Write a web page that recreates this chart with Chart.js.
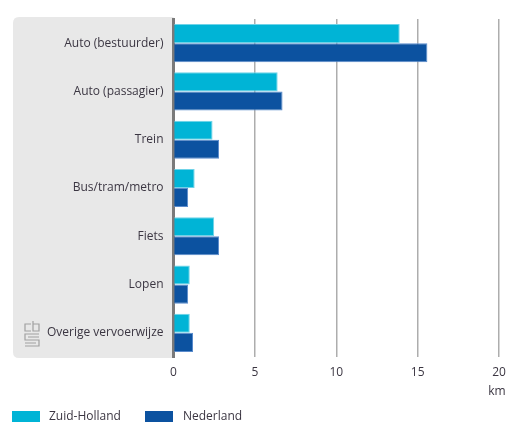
<!DOCTYPE html>
<html>
<head>
<meta charset="utf-8">
<script src="https://cdn.jsdelivr.net/npm/chart.js@4/dist/chart.umd.min.js"></script>
<style>
  html, body { margin: 0; padding: 0; background: #fff; }
  #wrap { width: 509px; height: 423px; }
</style>
</head>
<body>
<div id="wrap"><canvas id="chart" width="509" height="423"></canvas></div>
<script>
const categories = ['Auto (bestuurder)', 'Auto (passagier)', 'Trein', 'Bus/tram/metro', 'Fiets', 'Lopen', 'Overige vervoerwijze'];
const zuidHolland = [13.9, 6.4, 2.4, 1.3, 2.5, 1.0, 1.0];
const nederland = [15.6, 6.7, 2.8, 0.9, 2.8, 0.9, 1.2];
const xTicks = [0, 5, 10, 15, 20];

const FONT = '"Open Sans", "Noto Sans", sans-serif';
const TEXT = '#3b3642';

// grey panel behind the category labels, plus the small logo
const panelPlugin = {
    id: 'panel',
    beforeDraw(chart) {
        const { ctx, chartArea } = chart;
        const x0 = 13, x1 = chartArea.left, y0 = chartArea.top - 2, y1 = chartArea.bottom + 1, r = 6;
        ctx.save();
        ctx.fillStyle = '#e8e8e8';
        ctx.beginPath();
        ctx.moveTo(x1, y0);
        ctx.lineTo(x0 + r, y0);
        ctx.quadraticCurveTo(x0, y0, x0, y0 + r);
        ctx.lineTo(x0, y1 - r);
        ctx.quadraticCurveTo(x0, y1, x0 + r, y1);
        ctx.lineTo(x1, y1);
        ctx.closePath();
        ctx.fill();

        // rough cbs logo
        ctx.strokeStyle = '#a0a0a0';
        ctx.lineWidth = 1.2;
        ctx.beginPath();
        ctx.moveTo(31, 324); ctx.lineTo(25, 324); ctx.lineTo(25, 331); ctx.lineTo(31, 331);
        ctx.moveTo(33, 321); ctx.lineTo(33, 331); ctx.lineTo(39, 331); ctx.lineTo(39, 324); ctx.lineTo(33, 324);
        ctx.moveTo(39, 334); ctx.lineTo(25, 334); ctx.lineTo(25, 340); ctx.lineTo(39, 340);
        ctx.lineTo(39, 346); ctx.lineTo(25, 346);
        ctx.moveTo(28, 337); ctx.lineTo(39, 337);
        ctx.moveTo(25, 343); ctx.lineTo(36, 343);
        ctx.stroke();
        ctx.restore();
    },
    afterDraw(chart) {
        const { ctx } = chart;
        ctx.save();
        ctx.font = '12px ' + FONT;
        ctx.fillStyle = TEXT;
        ctx.textBaseline = 'middle';
        ctx.textAlign = 'center';
        ctx.fillText('km', 497, 392);

        // legend
        ctx.textAlign = 'left';
        const pos = [[12, 49], [145, 183]];
        chart.data.datasets.forEach((ds, i) => {
            ctx.fillStyle = ds.backgroundColor;
            ctx.fillRect(pos[i][0], 411, 28, 11);
            ctx.fillStyle = TEXT;
            ctx.fillText(ds.label, pos[i][1], 416.5);
        });
        ctx.restore();
    }
};

new Chart(document.getElementById('chart'), {
    type: 'bar',
    data: {
        labels: categories,
        datasets: [{
            label: 'Zuid-Holland',
            data: zuidHolland,
            backgroundColor: '#00b4d6',
            borderColor: '#6fd3e8',
            borderWidth: 1,
            barPercentage: 1.0,
            categoryPercentage: 0.79
        }, {
            label: 'Nederland',
            data: nederland,
            backgroundColor: '#0c52a0',
            borderColor: '#5a8bcc',
            borderWidth: 1,
            barPercentage: 1.0,
            categoryPercentage: 0.79
        }]
    },
    options: {
        indexAxis: 'y',
        responsive: false,
        animation: false,
        layout: { padding: { top: 19, right: 10, left: 0, bottom: 0 } },
        plugins: {
            legend: { display: false },
            tooltip: { enabled: false }
        },
        scales: {
            x: {
                min: 0,
                max: 20,
                afterBuildTicks(scale) {
                    scale.ticks = xTicks.map(v => ({ value: v }));
                },
                afterFit(scale) {
                    scale.height = 66;
                    scale.paddingRight = 0;
                    scale.paddingLeft = 0;
                },
                grid: {
                    drawTicks: false,
                    color: '#adadad',
                    lineWidth: 1.5
                },
                border: { display: false },
                ticks: {
                    padding: 8,
                    color: TEXT,
                    font: { family: FONT, size: 12 }
                }
            },
            y: {
                afterFit(scale) { scale.width = 173.5; },
                grid: { display: false, drawTicks: false },
                border: { display: true, color: '#7a7a7a', width: 3 },
                ticks: {
                    padding: 10,
                    color: TEXT,
                    font: { family: FONT, size: 12 }
                }
            }
        }
    },
    plugins: [panelPlugin]
});
</script>
</body>
</html>
